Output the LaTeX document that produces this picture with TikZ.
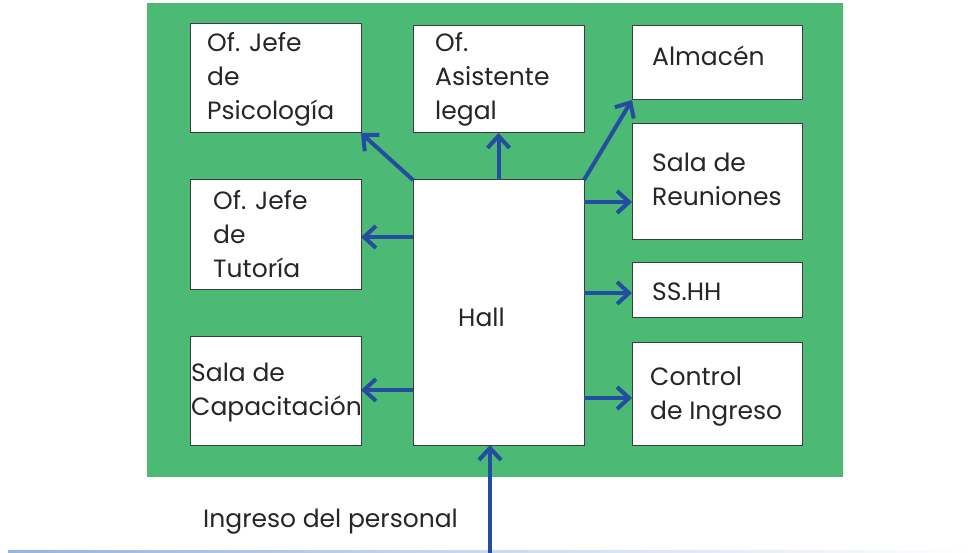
\documentclass[tikz,border=0pt]{standalone}
\usepackage{fontspec}
\setmainfont{Poppins}
\usetikzlibrary{arrows.meta}
\definecolor{bggreen}{RGB}{76,185,116}
\definecolor{arrblue}{RGB}{36,76,160}
\definecolor{boxline}{RGB}{60,60,60}
\definecolor{floorline}{RGB}{150,180,225}
\begin{document}
\begin{tikzpicture}[x=1pt,y=-1pt,
  room/.style={draw=boxline, line width=1pt, fill=white, inner sep=0pt, outer sep=0pt},
  lbl/.style={anchor=base west, inner sep=0pt, align=left, font=\fontsize{25}{34}\selectfont, text=black!85},
  arr/.style={draw=arrblue, line width=4pt, -{Straight Barb[length=12pt,width=22pt,line width=4pt]}}]
\useasboundingbox (0,0) rectangle (973,553);
\fill[bggreen] (147,3) rectangle (843,477);
\shade[left color=floorline, right color=white] (8,550.5) rectangle (973,552.5);
% rooms
\node[room, minimum width=171pt, minimum height=109pt] (psico) at (275.5,78.5) {};
\node[room, minimum width=171pt, minimum height=107pt] (asis) at (498.5,79.5) {};
\node[room, minimum width=170pt, minimum height=74pt] (alma) at (717,63) {};
\node[room, minimum width=171pt, minimum height=109pt] (tuto) at (275.5,234.5) {};
\node[room, minimum width=170pt, minimum height=115pt] (reun) at (717,181.5) {};
\node[room, minimum width=170pt, minimum height=55pt] (ssh) at (717,289.5) {};
\node[room, minimum width=171pt, minimum height=109pt] (capa) at (275.5,390.5) {};
\node[room, minimum width=171pt, minimum height=265pt] (hall) at (498.5,312.5) {};
\node[room, minimum width=170pt, minimum height=103pt] (ctrl) at (717,393.5) {};
% labels (anchored at the baseline of the last line)
\node[lbl] (tpsico) at (207,120) {Of. Jefe\\de\\Psicología};
\node[lbl] (tasis) at (435,120) {Of.\\Asistente\\legal};
\node[lbl] (talma) at (652,66) {Almacén};
\node[lbl] (treun) at (652,206) {Sala de\\Reuniones};
\node[lbl] (ttuto) at (213,277) {Of. Jefe\\de\\Tutoría};
\node[lbl] (tcapa) at (191,415) {Sala de\\Capacitación};
\node[lbl] (tssh) at (652,300) {SS.HH};
\node[lbl] (tctrl) at (650,419) {Control\\de Ingreso};
\node[lbl] (thall) at (458,326) {Hall};
\node[lbl] (tingreso) at (203,527) {Ingreso del personal};
% connectors
\draw[arr] (hall.north west) -- (psico.south east);
\draw[arr] (hall.north) -- (asis.south);
\draw[arr] (hall.north east) -- (alma.south west);
\draw[arr] (hall.west |- 0,237) -- (tuto.east |- 0,237);
\draw[arr] (hall.west |- 0,390) -- (capa.east |- 0,390);
\draw[arr] (hall.east |- 0,202) -- (reun.west |- 0,202);
\draw[arr] (hall.east |- 0,293) -- (ssh.west |- 0,293);
\draw[arr] (hall.east |- 0,398) -- (ctrl.west |- 0,398);
\coordinate (entry) at (490,556);
\draw[arr] (entry) -- (hall.south -| entry);
\end{tikzpicture}
\end{document}
